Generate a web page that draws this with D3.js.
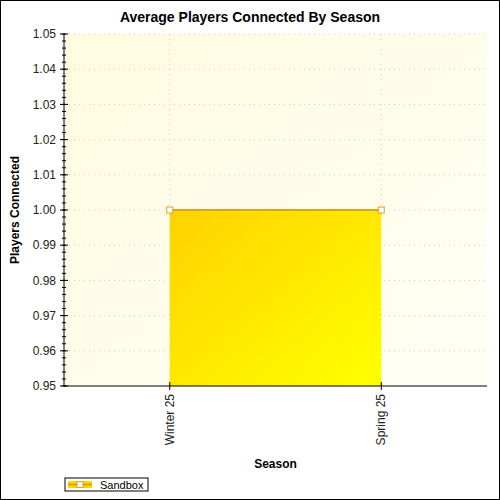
<!DOCTYPE html>
<html>
<head>
<meta charset="UTF-8">
<script src="https://d3js.org/d3.v7.min.js"></script>
<style>
  body { margin: 0; padding: 0; overflow: hidden; }
  text { font-family: "Liberation Sans", Arial, sans-serif; }
</style>
</head>
<body>
<div id="chart"></div>
<script>
const seasons = ['Winter 25', 'Spring 25'];
const players = [1.00, 1.00];
const yTicks = [0.95, 0.96, 0.97, 0.98, 0.99, 1.00, 1.01, 1.02, 1.03, 1.04, 1.05];

const W = 500, H = 500;
const m = { left: 64, right: 13, top: 34, bottom: 114 };
const pw = W - m.left - m.right, ph = H - m.top - m.bottom;

const svg = d3.select('#chart').append('svg').attr('width', W).attr('height', H);
const defs = svg.append('defs');
const bg = defs.append('linearGradient').attr('id', 'bg').attr('x1', 0).attr('y1', 0).attr('x2', 1).attr('y2', 1);
bg.append('stop').attr('offset', 0).attr('stop-color', '#fffbe0');
bg.append('stop').attr('offset', 1).attr('stop-color', '#fffff5');
const fg = defs.append('linearGradient').attr('id', 'fg').attr('x1', 0).attr('y1', 0).attr('x2', 1).attr('y2', 1);
fg.append('stop').attr('offset', 0).attr('stop-color', '#ffd200');
fg.append('stop').attr('offset', 1).attr('stop-color', '#ffff00');

svg.append('rect').attr('x', 0.5).attr('y', 0.5).attr('width', W - 1).attr('height', H - 1)
  .attr('fill', '#fff').attr('stroke', '#000');

svg.append('text').attr('x', 250).attr('y', 22).attr('text-anchor', 'middle')
  .attr('font-size', 14).attr('font-weight', 'bold').text('Average Players Connected By Season');

const g = svg.append('g').attr('transform', `translate(${m.left},${m.top})`);
const x = d3.scalePoint().domain(seasons).range([0, pw]).padding(0.5);
const y = d3.scaleLinear().domain([0.95, 1.05]).range([ph, 0]);

g.append('rect').attr('width', pw).attr('height', ph).attr('fill', 'url(#bg)');

// grid
g.selectAll('.hg').data(yTicks.slice(1)).join('line')
  .attr('x1', 0).attr('x2', pw).attr('y1', d => y(d)).attr('y2', d => y(d))
  .attr('stroke', '#ccc').attr('stroke-dasharray', '1,4');
g.selectAll('.vg').data(seasons).join('line')
  .attr('x1', d => x(d)).attr('x2', d => x(d)).attr('y1', 0).attr('y2', ph)
  .attr('stroke', '#ccc').attr('stroke-dasharray', '1,4');

// area + line
const pts = seasons.map((s, i) => [x(s), y(players[i])]);
g.append('path').datum(pts)
  .attr('d', d3.area().x(d => d[0]).y0(ph).y1(d => d[1]))
  .attr('fill', 'url(#fg)');
g.append('path').datum(pts)
  .attr('d', d3.line()).attr('fill', 'none').attr('stroke', '#e0a020').attr('stroke-width', 2);
g.selectAll('.pt').data(pts).join('rect')
  .attr('x', d => d[0] - 3).attr('y', d => d[1] - 3).attr('width', 6).attr('height', 6)
  .attr('fill', '#fff').attr('stroke', '#e0a020');

// y axis with minor ticks
const minor = d3.range(0, 51).map(i => 0.95 + i * 0.002);
g.selectAll('.mt').data(minor).join('line')
  .attr('x1', -2).attr('x2', 2).attr('y1', d => y(d)).attr('y2', d => y(d)).attr('stroke', '#000');
g.selectAll('.Mt').data(yTicks).join('line')
  .attr('x1', -4).attr('x2', 4).attr('y1', d => y(d)).attr('y2', d => y(d)).attr('stroke', '#000');
g.selectAll('.yl').data(yTicks).join('text')
  .attr('x', -8).attr('y', d => y(d)).attr('dy', '0.35em').attr('text-anchor', 'end')
  .attr('font-size', 12).attr('fill', '#222').text(d => d.toFixed(2));
g.append('line').attr('x1', 0).attr('x2', 0).attr('y1', 0).attr('y2', ph).attr('stroke', '#000');

// x axis
g.append('line').attr('x1', 0).attr('x2', pw).attr('y1', ph).attr('y2', ph).attr('stroke', '#000');
g.selectAll('.xt').data(seasons).join('line')
  .attr('x1', d => x(d)).attr('x2', d => x(d)).attr('y1', ph - 4).attr('y2', ph + 4).attr('stroke', '#000');
g.selectAll('.xl').data(seasons).join('text')
  .attr('transform', d => `translate(${x(d) + 4},${ph + 8}) rotate(-90)`)
  .attr('text-anchor', 'end').attr('font-size', 12).attr('fill', '#222').text(d => d);

svg.append('text').attr('x', m.left + pw / 2).attr('y', 468).attr('text-anchor', 'middle')
  .attr('font-size', 12).attr('font-weight', 'bold').text('Season');
svg.append('text').attr('transform', `translate(19,${m.top + ph / 2}) rotate(-90)`)
  .attr('text-anchor', 'middle').attr('font-size', 12).attr('font-weight', 'bold').text('Players Connected');

// legend
const lg = svg.append('g').attr('transform', 'translate(65,478)');
lg.append('rect').attr('width', 83).attr('height', 13).attr('fill', '#fff').attr('stroke', '#000');
lg.append('rect').attr('x', 3).attr('y', 3).attr('width', 24).attr('height', 7).attr('fill', '#ffd700');
lg.append('line').attr('x1', 3).attr('x2', 27).attr('y1', 6.5).attr('y2', 6.5).attr('stroke', '#e0a020').attr('stroke-width', 2);
lg.append('rect').attr('x', 12).attr('y', 3.5).attr('width', 6).attr('height', 6).attr('fill', '#fff').attr('stroke', '#e0a020');
lg.append('text').attr('x', 35).attr('y', 10.5).attr('font-size', 11).text('Sandbox');
</script>
</body>
</html>
